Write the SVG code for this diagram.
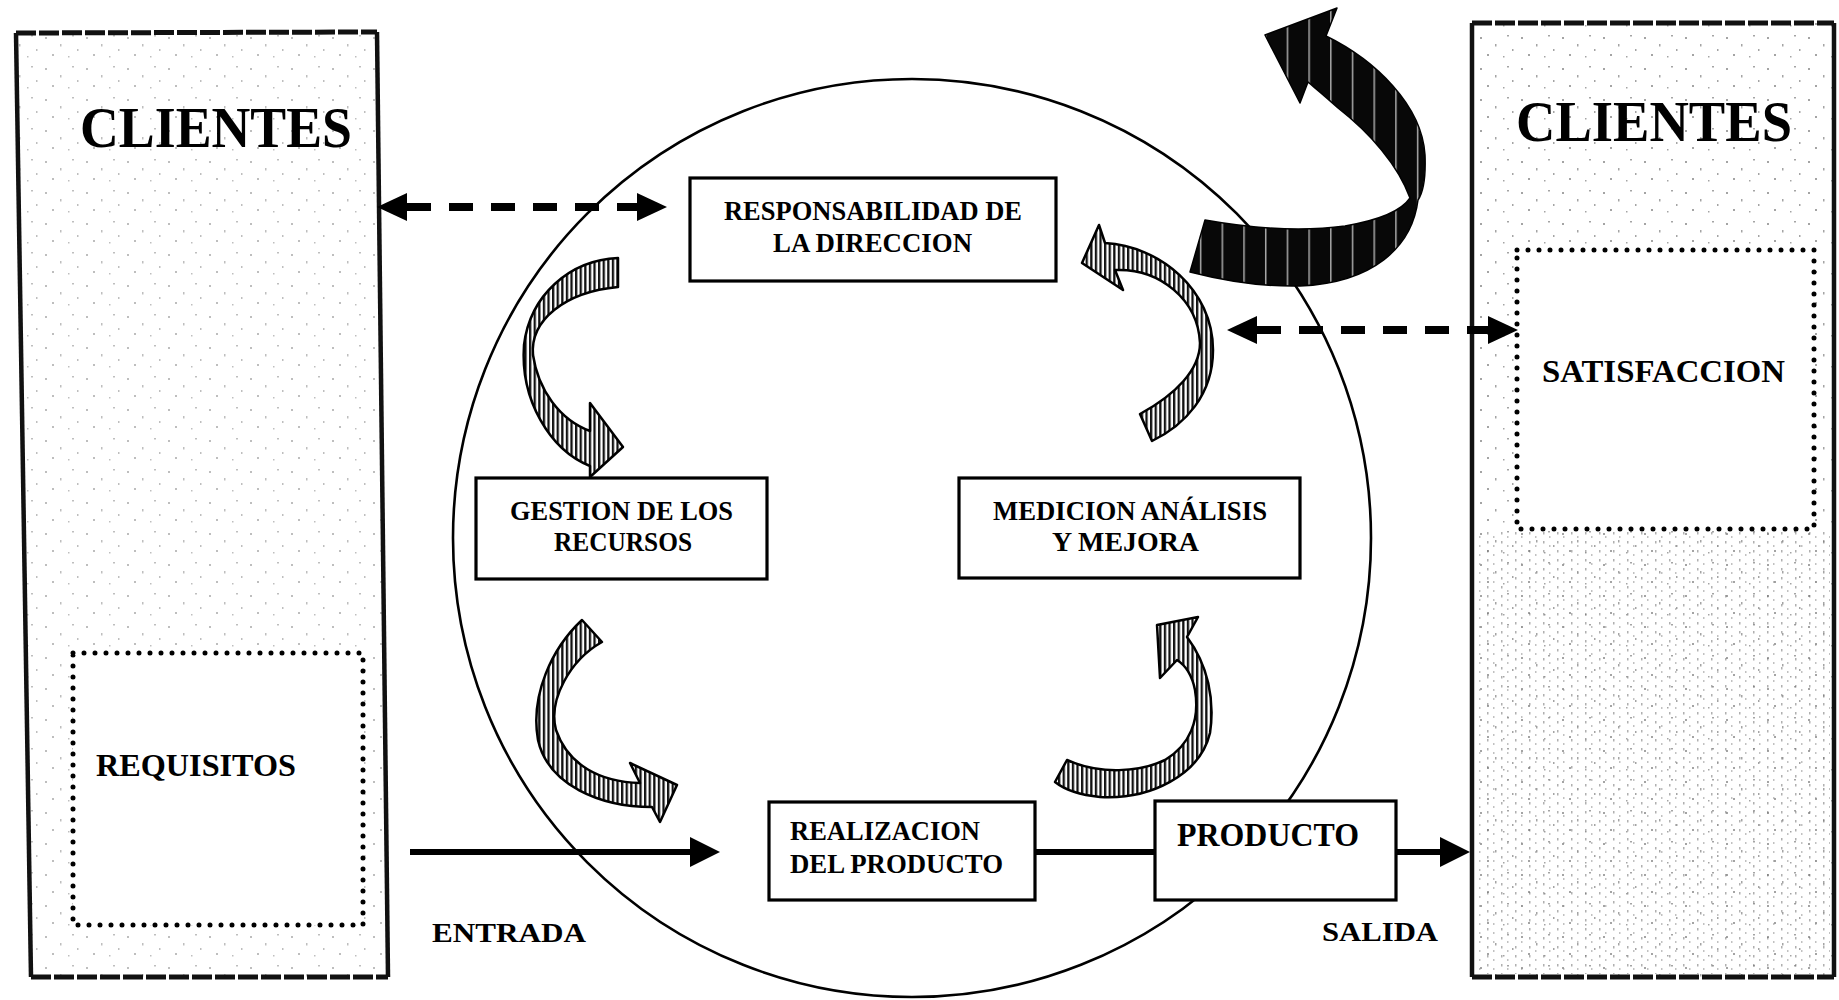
<svg xmlns="http://www.w3.org/2000/svg" width="1839" height="1000" viewBox="0 0 1839 1000">
  <defs>
    <style>
      .lbl { font-family: "Liberation Serif", "Times New Roman", serif; font-weight: bold; fill: #000; }
      .box { fill: #fff; stroke: #000; stroke-width: 3.2; }
      .dotted { fill: #fff; stroke: #000; stroke-width: 5; stroke-linecap: round; stroke-dasharray: 0 11; }
      .side { stroke: #111; stroke-width: 4.5; fill: none; }
      .edge { stroke: #111; stroke-width: 5; fill: none; stroke-dasharray: 20 3; }
      .dash { stroke: #000; stroke-width: 8; fill: none; stroke-dasharray: 24 18; }
      .flow { stroke: #000; stroke-width: 6; fill: none; }
      .hatched { fill: url(#hatch); stroke: #000; stroke-width: 2.5; stroke-linejoin: round; }
      .solidarrow { fill: url(#darkstripe); stroke: #000; stroke-width: 1.5; stroke-linejoin: round; }
    </style>
    <!-- light speckle used as panel shading -->
    <pattern id="speck" width="41" height="31" patternUnits="userSpaceOnUse">
      <g fill="#7d7d7d">
        <rect x="4" y="6" width="2" height="2"/>
        <rect x="19" y="13" width="1.5" height="2.5"/>
        <rect x="31" y="4" width="2" height="1.5"/>
        <rect x="11" y="23" width="2" height="2"/>
        <rect x="27" y="25" width="1.5" height="1.5"/>
        <rect x="36" y="18" width="1.5" height="2"/>
      </g>
    </pattern>
    <pattern id="stripes" width="14" height="9" patternUnits="userSpaceOnUse">
      <rect x="3" y="1" width="1.5" height="2.5" fill="#6f6f6f"/>
      <rect x="9" y="5" width="1.5" height="2" fill="#8f8f8f"/>
    </pattern>
    <!-- vertical line shading for the curved arrows -->
    <pattern id="hatch" width="4.6" height="12" patternUnits="userSpaceOnUse">
      <rect width="4.6" height="12" fill="#fff"/>
      <rect x="0" y="0" width="2.3" height="12" fill="#111"/>
    </pattern>
    <pattern id="darkstripe" x="1190" width="21.7" height="40" patternUnits="userSpaceOnUse">
      <rect width="21.7" height="40" fill="#080808"/>
      <rect x="10" y="0" width="1.3" height="40" fill="#fff" opacity="0.75"/>
    </pattern>
    <marker id="head" viewBox="0 0 30 28" refX="0" refY="14" markerWidth="30" markerHeight="28" markerUnits="userSpaceOnUse" orient="auto-start-reverse">
      <path d="M0,0 L30,14 L0,28 Z" fill="#000"/>
    </marker>
    <marker id="flowhead" viewBox="0 0 30 30" refX="0" refY="15" markerWidth="30" markerHeight="30" markerUnits="userSpaceOnUse" orient="auto">
      <path d="M0,0 L30,15 L0,30 Z" fill="#000"/>
    </marker>
  </defs>

  <rect width="1839" height="1000" fill="#fff"/>

  <!-- customer panel, input side -->
  <g id="clientes-entrada">
    <path d="M16,33 L377,32 L388,977 L31,977 Z" fill="url(#speck)" opacity="0.5"/>
    <path class="side" d="M16,33 L31,977"/>
    <path class="side" d="M377,32 L388,977"/>
    <path class="edge" d="M16,33 L377,32"/>
    <path class="edge" d="M31,977 L388,977"/>
    <text class="lbl" x="80" y="147" font-size="58" textLength="272" lengthAdjust="spacingAndGlyphs">CLIENTES</text>
  </g>

  <!-- customer panel, output side -->
  <g id="clientes-salida">
    <rect x="1472" y="23" width="362" height="954" fill="url(#speck)" opacity="0.7"/>
    <rect x="1476" y="530" width="354" height="444" fill="url(#stripes)" opacity="0.55"/>
    <path class="side" d="M1472,23 L1472,977"/>
    <path class="side" d="M1834,23 L1834,977"/>
    <path class="edge" d="M1472,23 L1834,23"/>
    <path class="edge" d="M1472,977 L1834,977"/>
    <text class="lbl" x="1516" y="141" font-size="58" textLength="276" lengthAdjust="spacingAndGlyphs">CLIENTES</text>
  </g>

  <g id="requisitos">
    <rect class="dotted" x="73" y="653" width="290" height="272"/>
    <text class="lbl" x="96" y="776" font-size="32" textLength="200" lengthAdjust="spacingAndGlyphs">REQUISITOS</text>
  </g>

  <g id="satisfaccion">
    <rect class="dotted" x="1517" y="250" width="297" height="279"/>
    <text class="lbl" x="1542" y="382" font-size="31" textLength="243" lengthAdjust="spacingAndGlyphs">SATISFACCION</text>
  </g>

  <!-- process cycle -->
  <g id="ciclo">
    <circle cx="912" cy="538" r="459" fill="none" stroke="#000" stroke-width="2.6"/>
  </g>

  <g id="connectors">
    <!-- two-way information links with the customers -->
    <path class="dash" d="M407,207 L637,207" marker-start="url(#head)" marker-end="url(#head)"/>
    <path class="dash" d="M1257,330 L1488,330" marker-start="url(#head)" marker-end="url(#head)"/>

    <!-- product flow -->
    <path class="flow" d="M410,852 L690,852" marker-end="url(#flowhead)"/>
    <path class="flow" d="M1035,852 L1155,852"/>
    <path class="flow" d="M1396,852 L1440,852" marker-end="url(#flowhead)"/>

    <!-- continual improvement arrow -->
    <path class="solidarrow" d="M1265,35 L1337,8 L1326,36 C1375,60 1422,105 1425,155 C1426,180 1422,194 1418,200 C1412,248 1372,283 1300,286 C1260,287 1225,281 1190,272 L1205,220 C1250,228 1300,232 1345,226 C1380,220 1402,210 1410,198 C1398,165 1370,133 1338,108 C1325,96 1315,88 1308,82 L1300,103 Z"/>

    <!-- cycle arrows between the processes -->
    <path class="hatched" d="M618,258 C570,260 530,295 524,345 C520,400 550,450 590,466 L590,477 L623,447 L590,403 L590,431 C560,420 538,390 533,355 C530,320 565,292 618,287 Z"/>
    <path class="hatched" d="M582,620 C552,648 530,695 538,740 C548,785 600,807 652,807 L660,822 L677,785 L630,763 L640,783 C600,782 568,765 556,730 C548,700 570,660 602,642 Z"/>
    <path class="hatched" d="M1157,625 L1198,617 L1187,637 C1208,665 1215,700 1210,733 C1200,775 1150,800 1100,797 C1080,795 1065,790 1055,782 L1067,760 C1100,775 1140,772 1165,760 C1190,745 1200,720 1195,690 C1192,675 1185,665 1177,660 L1160,678 Z"/>
    <path class="hatched" d="M1082,263 L1099,225 L1105,243 C1160,246 1213,290 1213,350 C1213,395 1185,425 1152,441 L1140,414 C1175,395 1200,370 1200,343 C1198,300 1160,268 1115,270 L1123,290 Z"/>
  </g>

  <g id="responsabilidad">
    <rect class="box" x="690" y="178" width="366" height="103"/>
    <text class="lbl" x="724" y="220" font-size="28" textLength="298" lengthAdjust="spacingAndGlyphs">RESPONSABILIDAD DE</text>
    <text class="lbl" x="773" y="252" font-size="28" textLength="199" lengthAdjust="spacingAndGlyphs">LA DIRECCION</text>
  </g>

  <g id="gestion">
    <rect class="box" x="476" y="478" width="291" height="101"/>
    <text class="lbl" x="510" y="520" font-size="28" textLength="223" lengthAdjust="spacingAndGlyphs">GESTION DE LOS</text>
    <text class="lbl" x="554" y="551" font-size="28" textLength="138" lengthAdjust="spacingAndGlyphs">RECURSOS</text>
  </g>

  <g id="medicion">
    <rect class="box" x="959" y="478" width="341" height="100"/>
    <text class="lbl" x="993" y="520" font-size="28" textLength="274" lengthAdjust="spacingAndGlyphs">MEDICION ANÁLISIS</text>
    <text class="lbl" x="1052" y="551" font-size="28" textLength="147" lengthAdjust="spacingAndGlyphs">Y MEJORA</text>
  </g>

  <g id="realizacion">
    <rect class="box" x="769" y="802" width="266" height="98"/>
    <text class="lbl" x="790" y="840" font-size="28" textLength="190" lengthAdjust="spacingAndGlyphs">REALIZACION</text>
    <text class="lbl" x="790" y="873" font-size="28" textLength="213" lengthAdjust="spacingAndGlyphs">DEL PRODUCTO</text>
  </g>

  <g id="producto">
    <rect class="box" x="1155" y="801" width="241" height="99"/>
    <text class="lbl" x="1177" y="846" font-size="33" textLength="182" lengthAdjust="spacingAndGlyphs">PRODUCTO</text>
  </g>

  <g id="entrada">
    <text class="lbl" x="432" y="942" font-size="28" textLength="154" lengthAdjust="spacingAndGlyphs">ENTRADA</text>
  </g>
  <g id="salida">
    <text class="lbl" x="1322" y="941" font-size="28" textLength="116" lengthAdjust="spacingAndGlyphs">SALIDA</text>
  </g>
</svg>
